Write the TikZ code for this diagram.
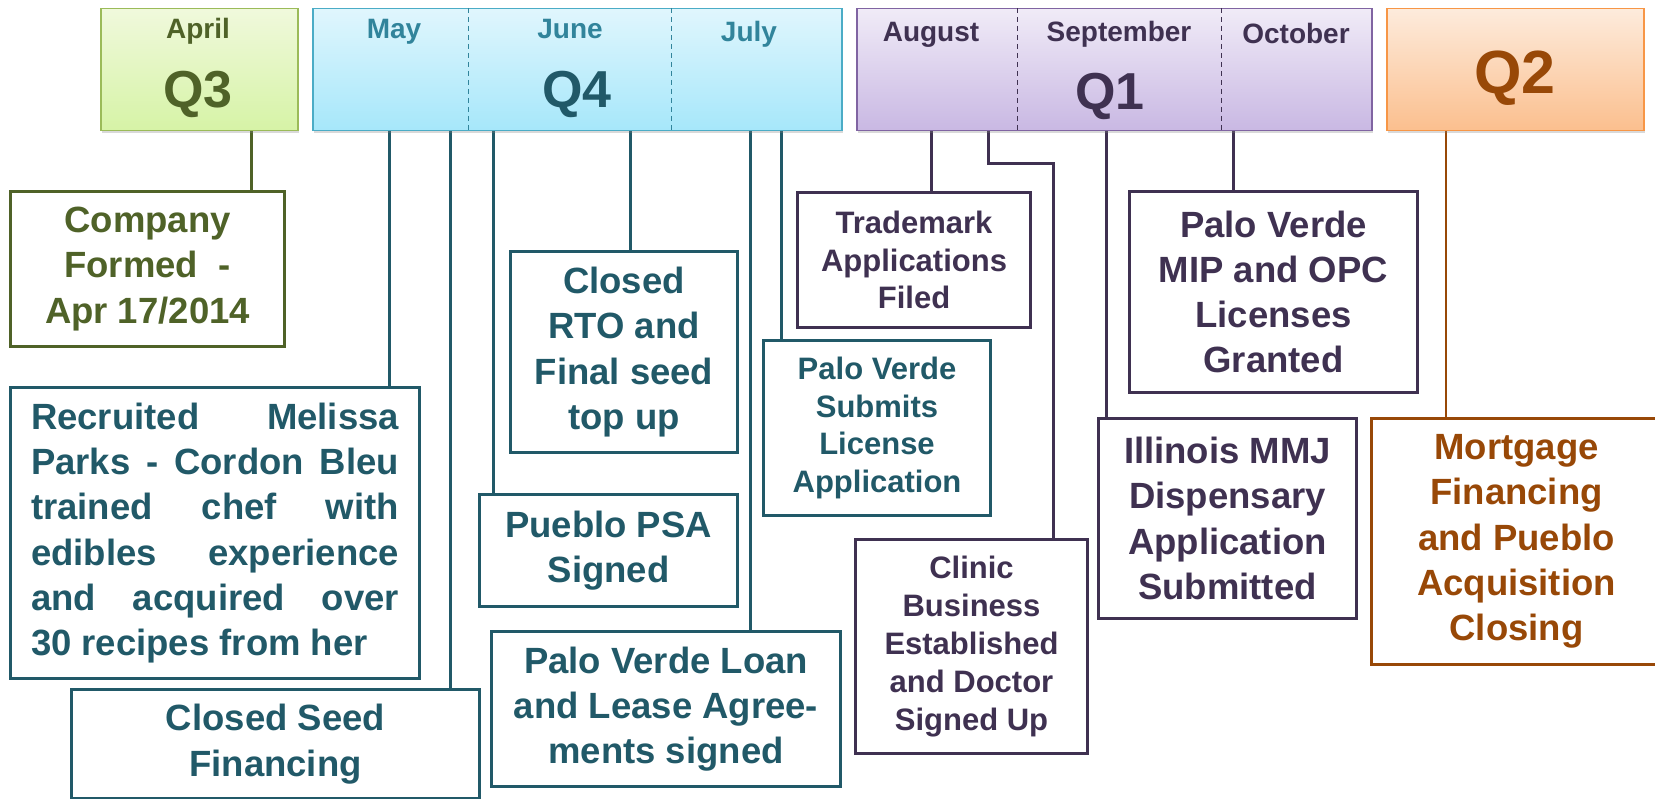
\documentclass[tikz,border=0pt]{standalone}
\usepackage{fontspec}
\setmainfont{Liberation Sans}
\usetikzlibrary{shadows,backgrounds}
\definecolor{grT}{HTML}{4F6228}
\definecolor{grB}{HTML}{9BBB59}
\definecolor{grF1}{HTML}{F0F9DC}
\definecolor{grF2}{HTML}{D6F3A6}
\definecolor{tlT}{HTML}{215968}
\definecolor{tlM}{HTML}{31849B}
\definecolor{tlB}{HTML}{4BACC6}
\definecolor{tlF1}{HTML}{E0F6FD}
\definecolor{tlF2}{HTML}{A6E7FA}
\definecolor{puT}{HTML}{3F3151}
\definecolor{puB}{HTML}{8064A2}
\definecolor{puF1}{HTML}{F0EBF7}
\definecolor{puF2}{HTML}{C9B8E3}
\definecolor{orT}{HTML}{984807}
\definecolor{orB}{HTML}{F79646}
\definecolor{orF1}{HTML}{FDEBDC}
\definecolor{orF2}{HTML}{FBBF8E}
\begin{document}
\begin{tikzpicture}[x=1pt,y=-1pt,
  hdr/.style={draw, line width=1.5pt, inner sep=0pt, anchor=north west,
    drop shadow={opacity=0.3, shadow xshift=1.5pt, shadow yshift=-2.5pt}},
  ev/.style={draw, line width=3pt, fill=white, inner sep=0pt, anchor=north west, align=center,
    font=\bfseries\fontsize{36.5}{45.3}\selectfont},
  evs/.style={ev, font=\bfseries\fontsize{31}{37.8}\selectfont},
  mon/.style={anchor=base, font=\bfseries\fontsize{28}{30}\selectfont},
  ql/.style={anchor=base, font=\bfseries\fontsize{52}{56}\selectfont},
  con/.style={line width=3pt},
  dv/.style={line width=1pt, dash pattern=on 5pt off 4pt}]
\useasboundingbox (0,0) rectangle (1655,799);

% header boxes
\node[hdr, draw=grB, top color=grF1, bottom color=grF2, minimum width=197, minimum height=122] (q3) at (100,8) {};
\node[hdr, draw=tlB, top color=tlF1, bottom color=tlF2, minimum width=529, minimum height=122] (q4) at (312,8) {};
\node[hdr, draw=puB, top color=puF1, bottom color=puF2, minimum width=515, minimum height=122] (q1) at (856,8) {};
\node[hdr, draw=orB, top color=orF1, bottom color=orF2, minimum width=257, minimum height=122] (q2) at (1386,8) {};

\draw[dv, tlM] (468,0 |- q4.north) -- (468,0 |- q4.south);
\draw[dv, tlM] (671,0 |- q4.north) -- (671,0 |- q4.south);
\draw[dv, puT] (1017,0 |- q1.north) -- (1017,0 |- q1.south);
\draw[dv, puT] (1221,0 |- q1.north) -- (1221,0 |- q1.south);

% month labels
\node[mon, text=grT] (mapr) at (198,39) {April};
\node[mon, text=tlM] (mmay) at (394,39) {May};
\node[mon, text=tlM] (mjun) at (570,39) {June};
\node[mon, text=tlM] (mjul) at (749,42) {July};
\node[mon, text=puT] (maug) at (931,42) {August};
\node[mon, text=puT] (msep) at (1119,42) {September};
\node[mon, text=puT] (moct) at (1296,44) {October};

% quarter labels
\node[ql, text=grT] (lq3) at (198,108) {Q3};
\node[ql, text=tlT] (lq4) at (577,108) {Q4};
\node[ql, text=puT] (lq1) at (1110,110) {Q1};
\node[anchor=base, text=orT, font=\bfseries\fontsize{61}{64}\selectfont] (lq2) at (1515,94) {Q2};

% event boxes
\node[ev, draw=grT, text=grT, minimum width=274, minimum height=155] (comp) at (9,190)
  {Company\\Formed \ -\\Apr 17/2014};
\node[ev, draw=tlT, text=tlT, minimum width=409, minimum height=291] (rec) at (9,386)
  {\makebox[368pt][s]{Recruited\hfill Melissa}\\
   \makebox[368pt][s]{Parks - Cordon Bleu}\\
   \makebox[368pt][s]{trained\hfill chef\hfill with}\\
   \makebox[368pt][s]{edibles\hfill experience}\\
   \makebox[368pt][s]{and\hfill acquired\hfill over}\\
   \makebox[368pt][l]{30 recipes from her}};
\node[ev, draw=tlT, text=tlT, minimum width=408, minimum height=109] (seed) at (70,688)
  {Closed Seed\\Financing};
\node[ev, draw=tlT, text=tlT, minimum width=258, minimum height=112] (psa) at (478,493)
  {Pueblo PSA\\Signed};
\node[ev, draw=tlT, text=tlT, minimum width=227, minimum height=201] (rto) at (509,250)
  {Closed\\RTO and\\Final seed\\top up};
\node[ev, draw=tlT, text=tlT, minimum width=349, minimum height=155] (loan) at (490,630)
  {Palo Verde Loan\\and Lease Agree-\\ments signed};
\node[evs, draw=tlT, text=tlT, minimum width=227, minimum height=175] (sub) at (762,339)
  {Palo Verde\\Submits\\License\\Application};
\node[evs, draw=puT, text=puT, minimum width=233, minimum height=135] (tm) at (796,191)
  {Trademark\\Applications\\Filed};
\node[evs, draw=puT, text=puT, minimum width=232, minimum height=214] (clin) at (854,538)
  {Clinic\\Business\\Established\\and Doctor\\Signed Up};
\node[ev, draw=puT, text=puT, minimum width=258, minimum height=200] (ill) at (1097,417)
  {Illinois MMJ\\Dispensary\\Application\\Submitted};
\node[ev, draw=puT, text=puT, minimum width=288, minimum height=201] (mip) at (1128,190)
  {Palo Verde\\MIP and OPC\\Licenses\\Granted};
\node[ev, draw=orT, text=orT, minimum width=290, minimum height=246] (mort) at (1370,417)
  {Mortgage\\Financing\\and Pueblo\\Acquisition\\Closing};

% connectors
\begin{pgfonlayer}{background}
\draw[con, grT] (251,0 |- q3.south) -- (251,0 |- comp.north);
\draw[con, tlT] (389,0 |- q4.south) -- (389,0 |- rec.north);
\draw[con, tlT] (450,0 |- q4.south) -- (450,0 |- seed.north);
\draw[con, tlT] (493,0 |- q4.south) -- (493,0 |- psa.north);
\draw[con, tlT] (630,0 |- q4.south) -- (630,0 |- rto.north);
\draw[con, tlT] (750,0 |- q4.south) -- (750,0 |- loan.north);
\draw[con, tlT] (781,0 |- q4.south) -- (781,0 |- sub.north);
\draw[con, puT] (931,0 |- q1.south) -- (931,0 |- tm.north);
\draw[con, puT] (988,0 |- q1.south) -- (988,164) -| (1053,0 |- clin.north);
\draw[con, puT] (1106,0 |- q1.south) -- (1106,0 |- ill.north);
\draw[con, puT] (1233,0 |- q1.south) -- (1233,0 |- mip.north);
\draw[line width=2.5pt, orT] (1446,0 |- q2.south) -- (1446,0 |- mort.north);
\end{pgfonlayer}
\end{tikzpicture}
\end{document}
